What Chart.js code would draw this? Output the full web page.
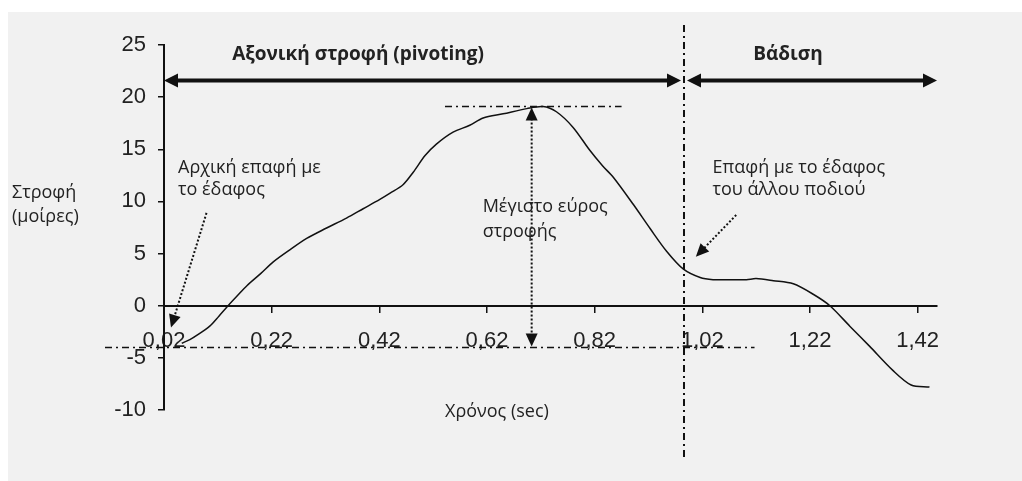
<!DOCTYPE html>
<html>
<head>
<meta charset="utf-8">
<script src="https://cdn.jsdelivr.net/npm/chart.js@4"></script>
<style>
    html, body { margin: 0; padding: 0; background: #ffffff; }
    #frame {
        position: absolute; left: 8px; top: 12px; right: 0; bottom: 0;
        background: #f1f1f1;
    }
    #wrap { position: absolute; left: 0; top: 0; width: 1022px; height: 481px; }
</style>
</head>
<body>
<div id="frame"></div>
<div id="wrap"><canvas id="chart"></canvas></div>
<script>
// Time (sec) and rotation (degrees)
const timeSec = [0.053, 0.068, 0.085, 0.105, 0.122, 0.139, 0.157, 0.174, 0.2, 0.223,
    0.255, 0.285, 0.32, 0.359, 0.39, 0.421, 0.44, 0.464, 0.483, 0.505,
    0.526, 0.557, 0.588, 0.613, 0.65, 0.694, 0.724, 0.749, 0.78, 0.811,
    0.835, 0.855, 0.892, 0.923, 0.954, 0.985, 1.016, 1.04, 1.07, 1.102,
    1.12, 1.152, 1.189, 1.226, 1.257, 1.294, 1.331, 1.374, 1.408, 1.442];
const rotationDeg = [-3.6, -3.25, -2.7, -1.96, -1.0, 0, 1.0, 1.92, 3.1, 4.2,
    5.4, 6.45, 7.4, 8.4, 9.3, 10.2, 10.8, 11.6, 12.8, 14.4,
    15.5, 16.65, 17.3, 18.0, 18.4, 18.9, 19.1, 18.6, 17.1, 14.9,
    13.4, 12.3, 9.7, 7.4, 5.2, 3.5, 2.7, 2.5, 2.5, 2.5,
    2.6, 2.4, 2.1, 1.1, 0, -1.96, -3.9, -6.2, -7.6, -7.8];

// Axis ticks
const xTickValues = [0.02, 0.22, 0.42, 0.62, 0.82, 1.02, 1.22, 1.42];
const xTickLabels = ['0,02', '0,22', '0,42', '0,62', '0,82', '1,02', '1,22', '1,42'];
const yTickValues = [-10, -5, 0, 5, 10, 15, 20, 25];

// Annotation values
const phaseSplit = 0.986;     // pivoting -> walking
const peakRotation = 19.1;
const startRotation = -4;
const peakTime = 0.703;

const tickFont = { family: '"Liberation Sans", Arial, sans-serif', size: 22 };
const noteFont = '18px "Open Sans", sans-serif';
const boldFont = 'bold 19px "Open Sans", sans-serif';
const ink = '#222';

function arrowHead(ctx, x, y, angle, len, half) {
    ctx.save();
    ctx.translate(x, y);
    ctx.rotate(angle);
    ctx.setLineDash([]);
    ctx.beginPath();
    ctx.moveTo(0, 0);
    ctx.lineTo(-len, -half);
    ctx.lineTo(-len, half);
    ctx.closePath();
    ctx.fill();
    ctx.restore();
}

function line(ctx, x1, y1, x2, y2, dash, width) {
    ctx.save();
    ctx.setLineDash(dash);
    ctx.lineWidth = width;
    ctx.beginPath();
    ctx.moveTo(x1, y1);
    ctx.lineTo(x2, y2);
    ctx.stroke();
    ctx.restore();
}

function dottedArrow(ctx, x1, y1, x2, y2) {
    const ang = Math.atan2(y2 - y1, x2 - x1);
    const bx = x2 - Math.cos(ang) * 10, by = y2 - Math.sin(ang) * 10;
    line(ctx, x1, y1, bx, by, [2, 2], 2);
    arrowHead(ctx, x2, y2, ang, 13, 6);
}

const annotations = {
    id: 'annotations',
    afterDraw(chart) {
        const ctx = chart.ctx;
        const xs = chart.scales.x, ys = chart.scales.y;
        const px = v => xs.getPixelForValue(v);
        const py = v => ys.getPixelForValue(v);
        ctx.save();
        ctx.strokeStyle = '#111';
        ctx.fillStyle = '#111';

        // phase boundary
        const sx = px(phaseSplit);
        line(ctx, sx, 25, sx, 460, [7, 4, 2, 4], 2);

        // phase double arrows
        const ay = py(21.6);
        const leftEnd = px(0.02), rightEnd = px(1.456);
        line(ctx, leftEnd + 8, ay, sx - 12, ay, [], 4);
        arrowHead(ctx, leftEnd, ay, Math.PI, 14, 7);
        arrowHead(ctx, sx - 3, ay, 0, 14, 7);
        line(ctx, sx + 12, ay, rightEnd - 8, ay, [], 4);
        arrowHead(ctx, sx + 3, ay, Math.PI, 14, 7);
        arrowHead(ctx, rightEnd, ay, 0, 14, 7);

        // peak and start reference lines
        line(ctx, px(0.542), py(peakRotation), px(0.87), py(peakRotation), [7, 4, 2, 4], 1.5);
        line(ctx, 105, py(startRotation), px(1.117), py(startRotation), [7, 4, 2, 4], 1.5);

        // range arrow
        const rx = px(peakTime);
        line(ctx, rx, py(peakRotation) + 12, rx, py(startRotation) - 12, [2, 2], 2);
        arrowHead(ctx, rx, py(peakRotation) + 1, -Math.PI / 2, 13, 6);
        arrowHead(ctx, rx, py(startRotation) - 1, Math.PI / 2, 13, 6);

        // pointer arrows
        dottedArrow(ctx, px(0.099), py(8.9), px(0.033), py(-2.1));
        dottedArrow(ctx, px(1.083), py(8.7), px(1.008), py(4.7));

        // texts
        ctx.fillStyle = ink;
        ctx.textBaseline = 'middle';
        ctx.textAlign = 'center';
        ctx.font = boldFont;
        ctx.fillText('Αξονική στροφή (pivoting)', 358, 55);
        ctx.fillText('Βάδιση', 788, 55);

        ctx.textAlign = 'left';
        ctx.font = noteFont;
        ctx.fillText('Αρχική επαφή με', px(0.046), py(13.25));
        ctx.fillText('το έδαφος', px(0.046), py(11.1));
        ctx.fillText('Μέγιστο εύρος', px(0.612), py(9.5));
        ctx.fillText('στροφής', px(0.612), py(7.1));
        ctx.fillText('Επαφή με το έδαφος', px(1.039), py(13.25));
        ctx.fillText('του άλλου ποδιού', px(1.039), py(11.1));
        ctx.fillText('Στροφή', 12, 193);
        ctx.fillText('(μοίρες)', 12, 217);
        ctx.fillText('Χρόνος (sec)', 445, 412);
        ctx.restore();
    }
};

new Chart(document.getElementById('chart'), {
    type: 'line',
    data: {
        datasets: [{
            data: timeSec.map((t, i) => ({ x: t, y: rotationDeg[i] })),
            borderColor: '#111',
            borderWidth: 1.5,
            pointRadius: 0,
            tension: 0.3,
            fill: false
        }]
    },
    options: {
        responsive: true,
        maintainAspectRatio: false,
        animation: false,
        layout: { padding: { left: 104, right: 85, top: 45, bottom: 71 } },
        plugins: {
            legend: { display: false },
            tooltip: { enabled: false }
        },
        scales: {
            x: {
                type: 'linear',
                min: 0.02,
                max: 1.456,
                position: { y: 0 },
                afterBuildTicks: scale => {
                    scale.ticks = xTickValues.map(v => ({ value: v }));
                },
                ticks: {
                    font: tickFont,
                    color: ink,
                    padding: 16,
                    autoSkip: false,
                    maxRotation: 0,
                    callback: (value, index) => xTickLabels[index]
                },
                grid: { drawOnChartArea: false, tickLength: 6, color: '#111', lineWidth: 1.5 },
                border: { color: '#111', width: 2 }
            },
            y: {
                min: -10,
                max: 25,
                afterBuildTicks: scale => {
                    scale.ticks = yTickValues.map(v => ({ value: v }));
                },
                afterFit: scale => { scale.width = 60; },
                ticks: { font: tickFont, color: ink, padding: 12 },
                grid: { drawOnChartArea: false, tickLength: 6, color: '#111', lineWidth: 1.5 },
                border: { color: '#111', width: 2 }
            }
        }
    },
    plugins: [annotations]
});
</script>
</body>
</html>
